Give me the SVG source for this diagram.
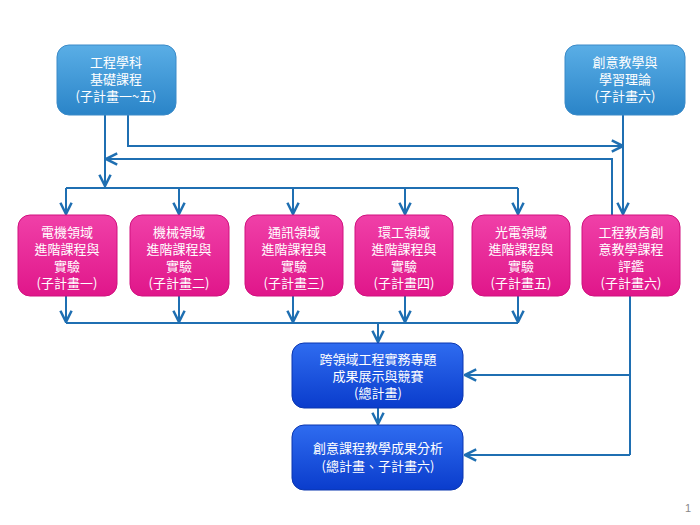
<svg xmlns="http://www.w3.org/2000/svg" width="700" height="525" viewBox="0 0 700 525">
<defs>
<linearGradient id="gb" x1="0" y1="0" x2="0" y2="1"><stop offset="0" stop-color="#5aaee6"/><stop offset="1" stop-color="#2a84c8"/></linearGradient>
<linearGradient id="gp" x1="0" y1="0" x2="0" y2="1"><stop offset="0" stop-color="#f040a8"/><stop offset="1" stop-color="#e0168a"/></linearGradient>
<linearGradient id="gd" x1="0" y1="0" x2="0" y2="1"><stop offset="0" stop-color="#2f6cf0"/><stop offset="1" stop-color="#0a3ccc"/></linearGradient>
<marker id="a" viewBox="0 0 10 10" refX="9" refY="5" markerWidth="7" markerHeight="7" orient="auto"><path d="M1,1 L9,5 L1,9" fill="none" stroke="#1f6fb2" stroke-width="1.8"/></marker>
</defs>
<style>
.c{fill:none;stroke:#1f6fb2;stroke-width:2}
.ca{fill:none;stroke:#1f6fb2;stroke-width:2;marker-end:url(#a)}
text{font-family:"Noto Sans CJK TC","Noto Sans CJK SC",sans-serif;font-size:13px;fill:#fff;text-anchor:middle}
.b rect{fill:url(#gb);stroke:#3a8ac8}
.p rect{fill:url(#gp);stroke:#d0107e}
.d rect{fill:url(#gd);stroke:#0a36b0}
</style>
<rect width="700" height="525" fill="#fff"/>
<g id="connectors">
<path class="ca" d="M105,115 V186"/>
<path class="ca" d="M128,115 V146 H623"/>
<path class="ca" d="M612,215 V159 H106"/>
<path class="ca" d="M623,115 V214"/>
<path class="c" d="M66,188 H518"/>
<path class="ca" d="M66,188 V214"/><path class="ca" d="M179,188 V214"/><path class="ca" d="M293,188 V214"/><path class="ca" d="M405,188 V214"/><path class="ca" d="M518,188 V214"/>
<path class="ca" d="M66,296 V322"/><path class="ca" d="M179,296 V322"/><path class="ca" d="M293,296 V322"/><path class="ca" d="M405,296 V322"/><path class="ca" d="M518,296 V322"/>
<path class="c" d="M66,323 H518"/>
<path class="ca" d="M378,323 V342"/>
<path class="ca" d="M378,408 V424"/>
<path class="c" d="M630,296 V455"/>
<path class="ca" d="M630,375 H465"/>
<path class="ca" d="M630,455 H465"/>
</g>
<g id="n1" class="b"><rect x="57" y="45" width="119" height="70" rx="12"/><text x="116" y="67">工程學科</text><text x="116" y="84">基礎課程</text><text x="116" y="101">(子計畫一~五)</text></g>
<g id="n2" class="b"><rect x="565" y="45" width="120" height="70" rx="12"/><text x="625" y="67">創意教學與</text><text x="625" y="84">學習理論</text><text x="625" y="101">(子計畫六)</text></g>
<g id="p1" class="p"><rect x="18" y="215" width="99" height="81" rx="12"/><text x="67" y="237">電機領域</text><text x="67" y="254">進階課程與</text><text x="67" y="271">實驗</text><text x="67" y="288">(子計畫一)</text></g>
<g id="p2" class="p"><rect x="130" y="215" width="99" height="81" rx="12"/><text x="179" y="237">機械領域</text><text x="179" y="254">進階課程與</text><text x="179" y="271">實驗</text><text x="179" y="288">(子計畫二)</text></g>
<g id="p3" class="p"><rect x="245" y="215" width="98" height="81" rx="12"/><text x="294" y="237">通訊領域</text><text x="294" y="254">進階課程與</text><text x="294" y="271">實驗</text><text x="294" y="288">(子計畫三)</text></g>
<g id="p4" class="p"><rect x="355" y="215" width="98" height="81" rx="12"/><text x="404" y="237">環工領域</text><text x="404" y="254">進階課程與</text><text x="404" y="271">實驗</text><text x="404" y="288">(子計畫四)</text></g>
<g id="p5" class="p"><rect x="472" y="215" width="98" height="81" rx="12"/><text x="521" y="237">光電領域</text><text x="521" y="254">進階課程與</text><text x="521" y="271">實驗</text><text x="521" y="288">(子計畫五)</text></g>
<g id="p6" class="p"><rect x="582" y="215" width="98" height="81" rx="12"/><text x="631" y="237">工程教育創</text><text x="631" y="254">意教學課程</text><text x="631" y="271">評鑑</text><text x="631" y="288">(子計畫六)</text></g>
<g id="d1" class="d"><rect x="292" y="343" width="171" height="65" rx="12"/><text x="378" y="364">跨領域工程實務專題</text><text x="378" y="381">成果展示與競賽</text><text x="378" y="398">(總計畫)</text></g>
<g id="d2" class="d"><rect x="292" y="425" width="171" height="65" rx="12"/><text x="378" y="453">創意課程教學成果分析</text><text x="378" y="471">(總計畫、子計畫六)</text></g>
<text x="688" y="512" style="fill:#888;font-size:11px;font-family:'Liberation Sans',sans-serif">1</text>
</svg>
